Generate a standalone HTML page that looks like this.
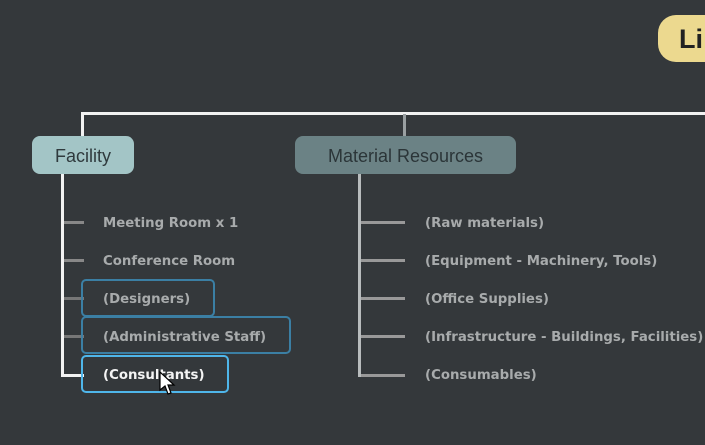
<!DOCTYPE html>
<html><head><style>
body{margin:0;width:705px;height:445px;background:#34383b;overflow:hidden;position:relative;font-family:"DejaVu Sans","Liberation Sans",sans-serif}
.a{position:absolute}
.t{position:absolute;font-size:13.3px;font-weight:bold;color:#a8abac;line-height:16px;white-space:nowrap}
.box{position:absolute;border:2px solid #3d8db8;border-radius:5px;box-sizing:border-box}
</style></head><body>
<div class="a" style="left:658px;top:15px;width:70px;height:47px;background:#ecd98f;border-radius:18px"></div>
<div class="a" style="left:679px;top:20px;font:bold 27px 'Liberation Sans',sans-serif;color:#222;line-height:38px">Li</div>
<div class="a" style="left:81px;top:112px;width:624px;height:3px;background:#f2f2f2"></div>
<div class="a" style="left:81px;top:112px;width:3px;height:25px;background:#f2f2f2"></div>
<div class="a" style="left:403px;top:114px;width:3px;height:22px;background:#9aa0a2"></div>
<div class="a" style="left:32px;top:136px;width:102px;height:38px;background:#a3c5c6;border-radius:8px"></div>
<div class="a" style="left:32px;top:137px;width:102px;line-height:38px;text-align:center;font-size:18px;color:#2f3a3d;font-family:'Liberation Sans',sans-serif">Facility</div>
<div class="a" style="left:295px;top:136px;width:221px;height:38px;background:#6b8285;border-radius:8px"></div>
<div class="a" style="left:295px;top:137px;width:221px;line-height:38px;text-align:center;font-size:18px;color:#2b3538;font-family:'Liberation Sans',sans-serif">Material Resources</div>
<div class="a" style="left:61px;top:174px;width:3px;height:203px;background:#f2f2f2"></div>
<div class="a" style="left:64px;top:221px;width:20px;height:3px;background:#888"></div>
<div class="a" style="left:64px;top:259px;width:20px;height:3px;background:#888"></div>
<div class="a" style="left:64px;top:297px;width:20px;height:3px;background:#777"></div>
<div class="a" style="left:64px;top:335px;width:20px;height:3px;background:#777"></div>
<div class="a" style="left:61px;top:374px;width:23px;height:3px;background:#f2f2f2"></div>
<div class="a" style="left:358px;top:174px;width:3px;height:203px;background:#b8bcbd"></div>
<div class="a" style="left:361px;top:221px;width:44px;height:3px;background:#999"></div>
<div class="a" style="left:361px;top:259px;width:44px;height:3px;background:#999"></div>
<div class="a" style="left:361px;top:297px;width:44px;height:3px;background:#999"></div>
<div class="a" style="left:361px;top:335px;width:44px;height:3px;background:#999"></div>
<div class="a" style="left:361px;top:374px;width:44px;height:3px;background:#999"></div>
<div class="box" style="left:81px;top:279px;width:134px;height:38px;border-color:#3b7fa4"></div>
<div class="box" style="left:81px;top:316px;width:210px;height:38px;border-color:#3b7fa4"></div>
<div class="box" style="left:81px;top:355px;width:148px;height:38px;border-color:#4fb6ea"></div>
<div class="t" style="left:103px;top:216px">Meeting Room x 1</div>
<div class="t" style="left:103px;top:254px">Conference Room</div>
<div class="t" style="left:103px;top:292px">(Designers)</div>
<div class="t" style="left:103px;top:330px">(Administrative Staff)</div>
<div class="t" style="left:103px;top:368px;color:#f4f4f4">(Consultants)</div>
<div class="t" style="left:425px;top:216px">(Raw materials)</div>
<div class="t" style="left:425px;top:254px">(Equipment - Machinery, Tools)</div>
<div class="t" style="left:425px;top:292px">(Office Supplies)</div>
<div class="t" style="left:425px;top:330px">(Infrastructure - Buildings, Facilities)</div>
<div class="t" style="left:425px;top:368px">(Consumables)</div>
<svg class="a" style="left:158px;top:370px" width="20" height="28"><path d="M2 2 L2 20 L7 16 L10 24 L13 23 L10 15 L16 15 Z" fill="#fff" stroke="#000" stroke-width="1.2"/></svg>
</body></html>
